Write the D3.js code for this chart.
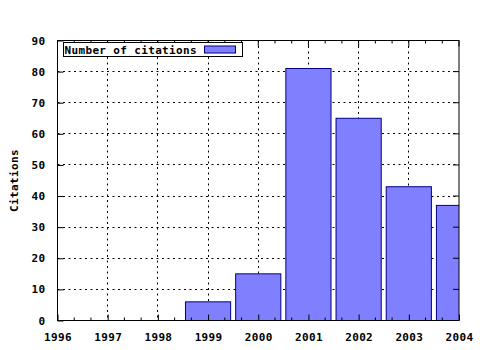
<!DOCTYPE html>
<meta charset="utf-8">
<script src="https://d3js.org/d3.v7.min.js"></script>
<style>
  body { margin: 0; background: #fff; }
  text { font-family: "DejaVu Sans Mono", monospace; font-weight: bold; font-size: 11px; letter-spacing: 0.35px; }
</style>
<svg width="480" height="350"></svg>
<script>
const years = [1999, 2000, 2001, 2002, 2003, 2004];
const citations = [6, 15, 81, 65, 43, 37];
const xTicks = [1996, 1997, 1998, 1999, 2000, 2001, 2002, 2003, 2004];
const yTicks = [0, 10, 20, 30, 40, 50, 60, 70, 80, 90];
const seriesName = "Number of citations";

const margin = {top: 40.5, right: 21, bottom: 29.5, left: 57.5};
const width = 480, height = 350;
const w = width - margin.left - margin.right;
const h = height - margin.top - margin.bottom;

const svg = d3.select('svg');
svg.append('defs').append('clipPath').attr('id', 'clip')
  .append('rect').attr('width', w).attr('height', h);

const g = svg.append('g')
  .attr('transform', 'translate(' + margin.left + ',' + margin.top + ')');

const x = d3.scaleLinear().domain([1996, 2004]).range([0, w]);
const y = d3.scaleLinear().domain([0, 90]).range([h, 0]);

// grid
g.selectAll('.gx').data(xTicks.slice(1, -1)).enter().append('line')
  .attr('x1', d => Math.round(x(d))).attr('x2', d => Math.round(x(d)))
  .attr('y1', 0).attr('y2', h)
  .attr('stroke', '#000').attr('stroke-dasharray', '2,3.5');
g.selectAll('.gy').data(yTicks.slice(1, -1)).enter().append('line')
  .attr('x1', 0).attr('x2', w)
  .attr('y1', d => Math.round(y(d))).attr('y2', d => Math.round(y(d)))
  .attr('stroke', '#000').attr('stroke-dasharray', '2,3.5');

// bars
const bw = x(1996.9) - x(1996);
g.append('g').attr('clip-path', 'url(#clip)')
  .selectAll('rect').data(years).enter().append('rect')
  .attr('x', d => x(d) - bw / 2)
  .attr('width', bw)
  .attr('y', (d, i) => y(citations[i]))
  .attr('height', (d, i) => h - y(citations[i]))
  .attr('fill', '#8080ff')
  .attr('stroke', '#000080')
  .attr('stroke-width', 1);

// axes
const xAxis = d3.axisBottom(x).tickValues(xTicks).tickFormat(d3.format('d')).tickSize(-6).tickPadding(12.7);
const gx = g.append('g').attr('transform', 'translate(0,' + h + ')').call(xAxis);
const yAxis = d3.axisLeft(y).tickValues(yTicks).tickSize(-6).tickPadding(12);
const gy = g.append('g').call(yAxis);
[gx, gy].forEach(a => {
  a.select('.domain').remove();
  a.selectAll('line').attr('stroke', '#000');
  a.selectAll('text').attr('fill', '#000');
});

// minor x ticks (bottom and top), mirrored major ticks
const minor = [];
xTicks.slice(0, -1).forEach(t => { minor.push(t + 1 / 3, t + 2 / 3); });
g.selectAll('.mxb').data(minor).enter().append('line')
  .attr('x1', d => x(d)).attr('x2', d => x(d)).attr('y1', h).attr('y2', h - 3).attr('stroke', '#000');
g.selectAll('.mxt').data(minor).enter().append('line')
  .attr('x1', d => x(d)).attr('x2', d => x(d)).attr('y1', 0).attr('y2', 3).attr('stroke', '#000');
g.selectAll('.Mxt').data(xTicks).enter().append('line')
  .attr('x1', d => x(d)).attr('x2', d => x(d)).attr('y1', 0).attr('y2', 6).attr('stroke', '#000');
g.selectAll('.Myr').data(yTicks).enter().append('line')
  .attr('x1', w).attr('x2', w - 6).attr('y1', d => y(d)).attr('y2', d => y(d)).attr('stroke', '#000');

// border
g.append('rect').attr('width', w).attr('height', h)
  .attr('fill', 'none').attr('stroke', '#000');

// y label
svg.append('text')
  .attr('transform', 'translate(18,' + (margin.top + h / 2) + ') rotate(-90)')
  .attr('text-anchor', 'middle')
  .text('Citations');

// legend
const lg = svg.append('g').attr('transform', 'translate(63.5,42.5)');
lg.append('rect').attr('width', 179).attr('height', 14)
  .attr('fill', '#fff').attr('stroke', '#000');
lg.append('text').attr('x', 1).attr('y', 11).text(seriesName);
lg.append('rect').attr('x', 141).attr('y', 3.5).attr('width', 31).attr('height', 7)
  .attr('fill', '#8080ff').attr('stroke', '#000080');
</script>
